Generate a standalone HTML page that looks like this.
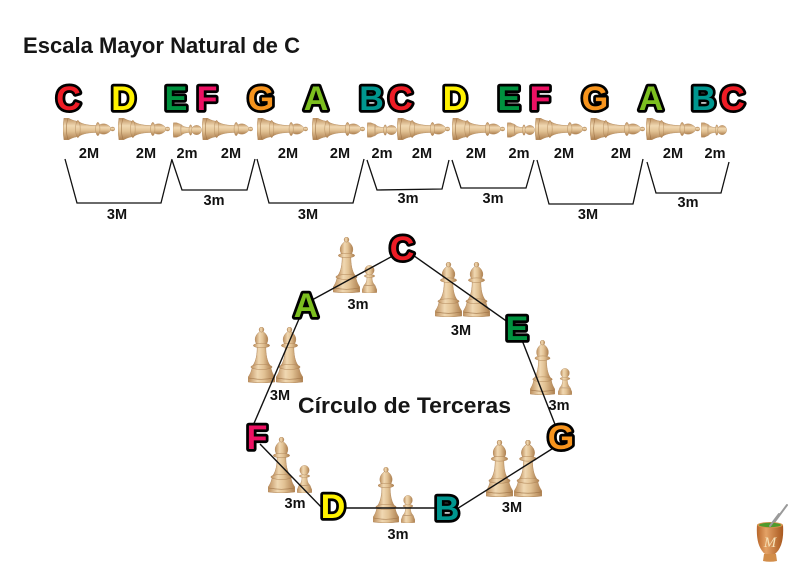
<!DOCTYPE html>
<html>
<head>
<meta charset="utf-8">
<style>
html,body{margin:0;padding:0;background:#fff;}
svg{display:block;}
.t{font-family:"Liberation Sans",Arial,sans-serif;font-weight:bold;fill:#161616;}
.L{font-family:"Liberation Sans",Arial,sans-serif;font-weight:bold;font-size:34px;stroke:#000;stroke-width:5.5;stroke-linejoin:round;paint-order:stroke;text-anchor:middle;}
.lb{font-family:"Liberation Sans",Arial,sans-serif;font-weight:bold;font-size:14.5px;fill:#111;text-anchor:middle;}
</style>
</head>
<body>
<svg width="800" height="566" viewBox="0 0 800 566" xmlns="http://www.w3.org/2000/svg">
<defs>
  <linearGradient id="wood" x1="0" y1="0" x2="1" y2="0">
    <stop offset="0" stop-color="#bd8f5e"/>
    <stop offset="0.35" stop-color="#f0d8b2"/>
    <stop offset="0.6" stop-color="#e2c294"/>
    <stop offset="1" stop-color="#ad7f4f"/>
  </linearGradient>
  <linearGradient id="cup" x1="0" y1="0" x2="1" y2="0">
    <stop offset="0" stop-color="#b8662a"/>
    <stop offset="0.35" stop-color="#e4a266"/>
    <stop offset="1" stop-color="#a8581f"/>
  </linearGradient>
  <symbol id="bishop" viewBox="0 0 28 56" preserveAspectRatio="none">
    <g fill="url(#wood)" stroke="#b08658" stroke-width="0.5">
      <path d="M4,41.5 L24,41.5 C24.5,45 26.5,48 27.8,50 L27.8,55 Q14,56.8 0.2,55 L0.2,50 C1.5,48 3.5,45 4,41.5 Z"/>
      <path d="M9.5,20 L18.5,20 C18.5,27 19.5,34 23,38.5 L5,38.5 C8.5,34 9.5,27 9.5,20 Z"/>
      <ellipse cx="14" cy="40" rx="11" ry="2.5"/>
      <path d="M14,3.5 C21,7.5 22,13 19,17 L9,17 C6,13 7,7.5 14,3.5 Z"/>
      <ellipse cx="14" cy="18.5" rx="8.5" ry="2.3"/>
      <circle cx="14" cy="2.6" r="2.5"/>
    </g>
    <path d="M0.8,51 Q14,53.5 27.2,51" fill="none" stroke="#a07548" stroke-width="0.6"/>
  </symbol>
  <symbol id="pawn" viewBox="0 0 16 29" preserveAspectRatio="none">
    <g fill="url(#wood)" stroke="#b08658" stroke-width="0.4">
      <path d="M1.8,21.5 L14.2,21.5 C14.7,23.5 15.8,25 15.9,26 L15.9,28.5 Q8,29.6 0.1,28.5 L0.1,26 C0.2,25 1.3,23.5 1.8,21.5 Z"/>
      <path d="M5.3,12 L10.7,12 C10.7,16 11.5,19 14,21 L2,21 C4.5,19 5.3,16 5.3,12 Z"/>
      <ellipse cx="8" cy="11.4" rx="5.6" ry="1.6"/>
      <circle cx="8" cy="5.4" r="5"/>
    </g>
  </symbol>
</defs>

<!-- Title -->
<text class="t" x="23" y="53" font-size="22" textLength="277" lengthAdjust="spacingAndGlyphs">Escala Mayor Natural de C</text>

<!-- Top row letters -->
<g>
<text class="L" x="68.5" y="110" fill="#ee1c25">C</text>
<text class="L" x="123.5" y="110" fill="#fff200">D</text>
<text class="L" x="176" y="110" fill="#00923f">E</text>
<text class="L" x="207" y="110" fill="#ed1163">F</text>
<text class="L" x="261" y="110" fill="#f7941d">G</text>
<text class="L" x="316" y="110" fill="#7cbf1f">A</text>
<text class="L" x="371.5" y="110" fill="#00968f">B</text>
<text class="L" x="400.5" y="110" fill="#ee1c25">C</text>
<text class="L" x="455" y="110" fill="#fff200">D</text>
<text class="L" x="509" y="110" fill="#00923f">E</text>
<text class="L" x="540" y="110" fill="#ed1163">F</text>
<text class="L" x="595" y="110" fill="#f7941d">G</text>
<text class="L" x="651" y="110" fill="#7cbf1f">A</text>
<text class="L" x="703.5" y="110" fill="#00968f">B</text>
<text class="L" x="732.5" y="110" fill="#ee1c25">C</text>
</g>

<!-- Top row horizontal pieces -->
<g>
<use href="#bishop" width="22" height="52" transform="translate(115,118) rotate(90)"/>
<use href="#bishop" width="22" height="52" transform="translate(170,118) rotate(90)"/>
<use href="#pawn" width="15" height="29" transform="translate(202,122.5) rotate(90)"/>
<use href="#bishop" width="22" height="51" transform="translate(253,118) rotate(90)"/>
<use href="#bishop" width="22" height="51" transform="translate(308,118) rotate(90)"/>
<use href="#bishop" width="22" height="53" transform="translate(365,118) rotate(90)"/>
<use href="#pawn" width="15" height="30" transform="translate(397,122.5) rotate(90)"/>
<use href="#bishop" width="22" height="53" transform="translate(450,118) rotate(90)"/>
<use href="#bishop" width="22" height="53" transform="translate(505,118) rotate(90)"/>
<use href="#pawn" width="15" height="28" transform="translate(535,122.5) rotate(90)"/>
<use href="#bishop" width="22" height="52" transform="translate(587,118) rotate(90)"/>
<use href="#bishop" width="22" height="55" transform="translate(645,118) rotate(90)"/>
<use href="#bishop" width="22" height="54" transform="translate(700,118) rotate(90)"/>
<use href="#pawn" width="15" height="26" transform="translate(727,122.5) rotate(90)"/>
</g>

<!-- Top row interval labels -->
<g>
<text class="lb" x="89" y="158">2M</text>
<text class="lb" x="146" y="158">2M</text>
<text class="lb" x="187" y="158">2m</text>
<text class="lb" x="231" y="158">2M</text>
<text class="lb" x="288" y="158">2M</text>
<text class="lb" x="340" y="158">2M</text>
<text class="lb" x="382" y="158">2m</text>
<text class="lb" x="422" y="158">2M</text>
<text class="lb" x="476" y="158">2M</text>
<text class="lb" x="519" y="158">2m</text>
<text class="lb" x="564" y="158">2M</text>
<text class="lb" x="621" y="158">2M</text>
<text class="lb" x="673" y="158">2M</text>
<text class="lb" x="715" y="158">2m</text>
</g>

<!-- Brackets -->
<g fill="none" stroke="#111" stroke-width="1.3" stroke-linejoin="miter">
<polyline points="65,159 77,203 161,203 172,159"/>
<polyline points="172,160 182,190 247,190 255,159"/>
<polyline points="257,159 269,203 353,203 364,159"/>
<polyline points="367,160 377,190 442,189 449,160"/>
<polyline points="452,160 461,188 526,188 534,160"/>
<polyline points="537,160 549,204 633,204 643,159"/>
<polyline points="647,162 656,193 721,193 729,162"/>
</g>
<g>
<text class="lb" x="117" y="219">3M</text>
<text class="lb" x="214" y="205">3m</text>
<text class="lb" x="308" y="219">3M</text>
<text class="lb" x="408" y="203">3m</text>
<text class="lb" x="493" y="203">3m</text>
<text class="lb" x="588" y="219">3M</text>
<text class="lb" x="688" y="207">3m</text>
</g>

<!-- Circle pieces -->
<g>
<use href="#bishop" x="333" y="237" width="27" height="56"/>
<use href="#pawn" x="362" y="265" width="15" height="28"/>
<use href="#bishop" x="435" y="262" width="27" height="55"/>
<use href="#bishop" x="463" y="262" width="27" height="55"/>
<use href="#bishop" x="530" y="340" width="25" height="55"/>
<use href="#pawn" x="558" y="368" width="14" height="27"/>
<use href="#bishop" x="486" y="440" width="27" height="57"/>
<use href="#bishop" x="514" y="440" width="28" height="57"/>
<use href="#bishop" x="373" y="467" width="26" height="56"/>
<use href="#pawn" x="401" y="495" width="14" height="28"/>
<use href="#bishop" x="268" y="437" width="27" height="56"/>
<use href="#pawn" x="297" y="465" width="15" height="28"/>
<use href="#bishop" x="248" y="327" width="27" height="56"/>
<use href="#bishop" x="276" y="327" width="27" height="56"/>
</g>

<!-- Circle lines -->
<g stroke="#111" stroke-width="1.4" fill="none">
<line x1="312" y1="300" x2="400" y2="252"/>
<line x1="410" y1="253" x2="512" y2="325"/>
<line x1="520" y1="335" x2="558" y2="432"/>
<line x1="555" y1="447" x2="452" y2="512"/>
<line x1="340" y1="508" x2="440" y2="508"/>
<line x1="326" y1="512" x2="260" y2="444"/>
<line x1="252" y1="428" x2="302" y2="312"/>
</g>

<!-- Circle letters -->
<g>
<text class="L" x="402" y="260" fill="#ee1c25">C</text>
<text class="L" x="306" y="317" fill="#7cbf1f">A</text>
<text class="L" x="517" y="340" fill="#00923f">E</text>
<text class="L" x="561" y="449" fill="#f7941d">G</text>
<text class="L" x="447" y="520" fill="#00968f">B</text>
<text class="L" x="333" y="518" fill="#fff200">D</text>
<text class="L" x="257" y="449" fill="#ed1163">F</text>
</g>

<!-- Circle labels -->
<g>
<text class="lb" x="358" y="309">3m</text>
<text class="lb" x="461" y="335">3M</text>
<text class="lb" x="559" y="410">3m</text>
<text class="lb" x="512" y="512">3M</text>
<text class="lb" x="398" y="539">3m</text>
<text class="lb" x="295" y="508">3m</text>
<text class="lb" x="280" y="400">3M</text>
</g>

<text class="t" x="298" y="413" font-size="22.5" textLength="213" lengthAdjust="spacingAndGlyphs">Círculo de Terceras</text>

<!-- Mate cup -->
<g>
<line x1="770" y1="528" x2="787" y2="505" stroke="#9a9a9a" stroke-width="2" stroke-linecap="round"/>
<path d="M757,525 C756,540 759,549 765,554 L775,554 C781,549 784,540 783,525 Z" fill="url(#cup)"/>
<path d="M764,554 L776,554 L777,561 Q770,562.5 763,561 Z" fill="#d28d4a"/>
<ellipse cx="770" cy="525" rx="13" ry="3" fill="#d89250"/>
<ellipse cx="770" cy="525" rx="11" ry="2.2" fill="#4f9a2c"/>
<line x1="770" y1="526" x2="779" y2="514" stroke="#9a9a9a" stroke-width="2" stroke-linecap="round"/>
<text x="770" y="547" font-family="Liberation Serif, serif" font-style="italic" font-size="15" fill="#f6e2b8" text-anchor="middle">M</text>
</g>
</svg>
</body>
</html>
